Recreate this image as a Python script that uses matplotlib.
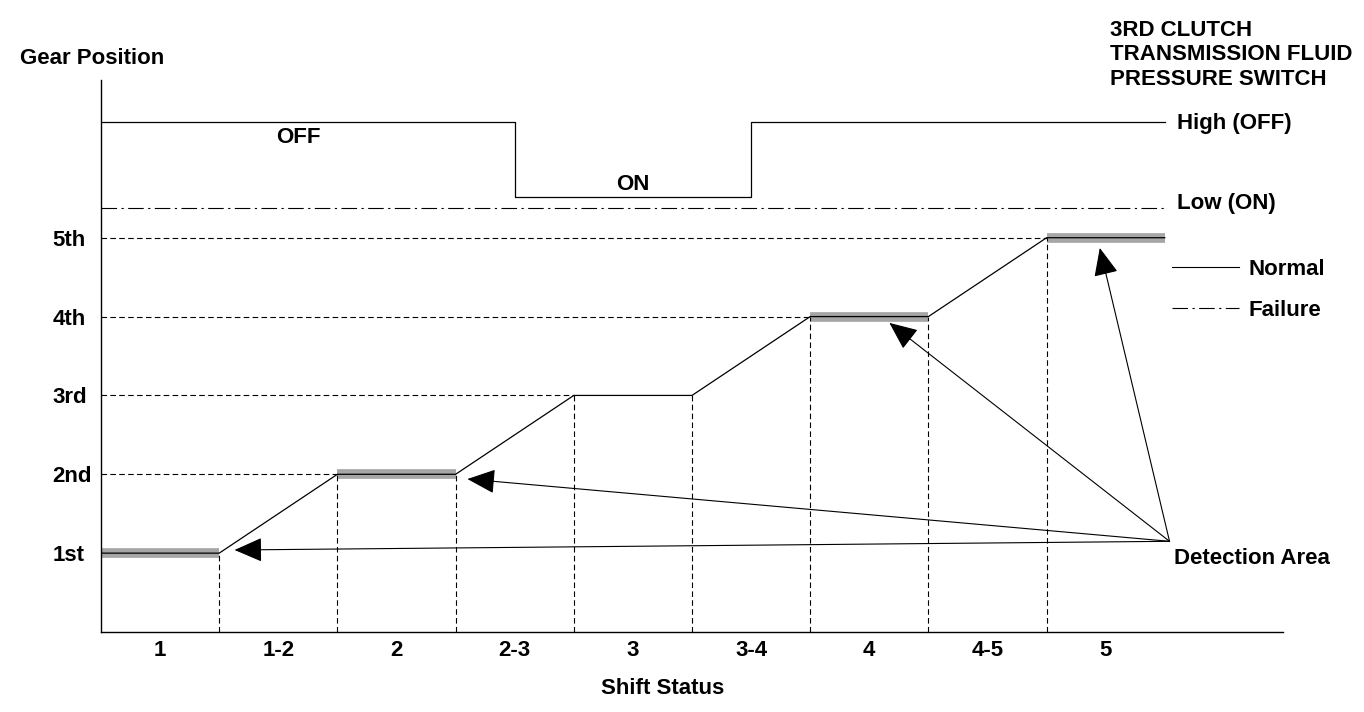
import matplotlib.pyplot as plt
from matplotlib.lines import Line2D

plt.rcParams['font.family'] = ['Liberation Sans', 'DejaVu Sans']
plt.rcParams['font.weight'] = 'bold'

# shift status segments and gear levels
shift_labels = ['1', '1-2', '2', '2-3', '3', '3-4', '4', '4-5', '5']
gear_labels = ['1st', '2nd', '3rd', '4th', '5th']
gear_levels = [1, 2, 3, 4, 5]

# gear position trace (normal)
gear_x = [0, 1, 2, 3, 4, 5, 6, 7, 8, 9]
gear_y = [1, 1, 2, 2, 3, 3, 4, 4, 5, 5]

# detection areas (gray bands): start, end, gear
detect_start = [0, 2, 6, 8]
detect_end = [1, 3, 7, 9]
detect_gear = [1, 2, 4, 5]

# pressure switch trace
switch_x = [0, 3.5, 3.5, 5.5, 5.5, 9]
switch_y = [6.47, 6.47, 5.51, 5.51, 6.47, 6.47]
switch_low = 5.38

# arrows from "Detection Area" label to the bands
arrow_tail = (9.04, 1.15)
arrow_tips_x = [1.13, 3.10, 6.67, 8.45]
arrow_tips_y = [1.04, 1.94, 3.92, 4.87]

FS = 16
dashdot = (0, (14, 4, 2, 4))

fig = plt.figure(figsize=(13.64, 7.12), dpi=100)
ax = fig.add_axes([101/1364, 80/712, (1283-101)/1364, (632-80)/712])
ax.set_xlim(0, 10)
ax.set_ylim(0, 7)

# gray detection bands
for s, e, g in zip(detect_start, detect_end, detect_gear):
    ax.plot([s, e], [g, g], color='#a6a6a6', lw=7, solid_capstyle='butt', zorder=1)

# dashed guide lines to each gear
for g in gear_levels[1:]:
    xe = gear_x[gear_y.index(g)]
    ax.plot([0, xe], [g, g], color='black', lw=0.8, ls=(0, (5, 3)), zorder=2)
# dashed vertical lines at segment boundaries
for xb, yb in zip(gear_x[1:-1], gear_y[1:-1]):
    ax.plot([xb, xb], [0, yb], color='black', lw=0.8, ls=(0, (5, 3)), zorder=2)

ax.plot(gear_x, gear_y, color='black', lw=0.9, zorder=3)

# switch
ax.plot(switch_x, switch_y, color='black', lw=0.9)
ax.plot([0, 9], [switch_low, switch_low], color='black', lw=0.8, ls=dashdot)
ax.text(1.67, 6.27, 'OFF', ha='center', va='center', fontsize=FS)
ax.text(4.5, 5.67, 'ON', ha='center', va='center', fontsize=FS)
ax.text(9.1, 6.45, 'High (OFF)', ha='left', va='center', fontsize=FS)
ax.text(9.1, 5.44, 'Low (ON)', ha='left', va='center', fontsize=FS)

for tx, ty in zip(arrow_tips_x, arrow_tips_y):
    ax.annotate('', xy=(tx, ty), xytext=arrow_tail,
                arrowprops=dict(arrowstyle='-|>,head_length=0.8,head_width=0.35',
                                mutation_scale=22, color='black', lw=0.8,
                                shrinkA=0, shrinkB=0))
ax.text(9.08, 0.93, 'Detection Area', ha='left', va='center', fontsize=FS)

handles = [Line2D([], [], color='black', lw=0.8),
           Line2D([], [], color='black', lw=0.8, ls=dashdot)]
ax.legend(handles, ['Normal', 'Failure'], frameon=False, fontsize=FS,
          loc='center left', bbox_to_anchor=(0.906, 0.62), handlelength=3.0,
          labelspacing=0.9, handletextpad=0.45, borderpad=0, borderaxespad=0)

ax.set_xticks([i + 0.5 for i in range(len(shift_labels))])
ax.set_xticklabels(shift_labels, fontsize=FS)
ax.set_yticks(gear_levels)
ax.set_yticklabels(gear_labels, fontsize=FS, ha='left')
ax.tick_params(axis='x', length=0, pad=6)
ax.tick_params(axis='y', length=0, pad=35)
ax.spines['top'].set_visible(False)
ax.spines['right'].set_visible(False)
ax.spines['left'].set_linewidth(1)
ax.spines['bottom'].set_linewidth(1)

fig.text(20/1364, 1 - 58/712, 'Gear Position', ha='left', va='center', fontsize=FS)
fig.text(663/1364, 1 - 688/712, 'Shift Status', ha='center', va='center', fontsize=FS)
fig.text(1110/1364, 1 - 55/712, '3RD CLUTCH\nTRANSMISSION FLUID\nPRESSURE SWITCH',
         ha='left', va='center', fontsize=FS, linespacing=1.2)

fig.savefig('out.png', dpi=100)
